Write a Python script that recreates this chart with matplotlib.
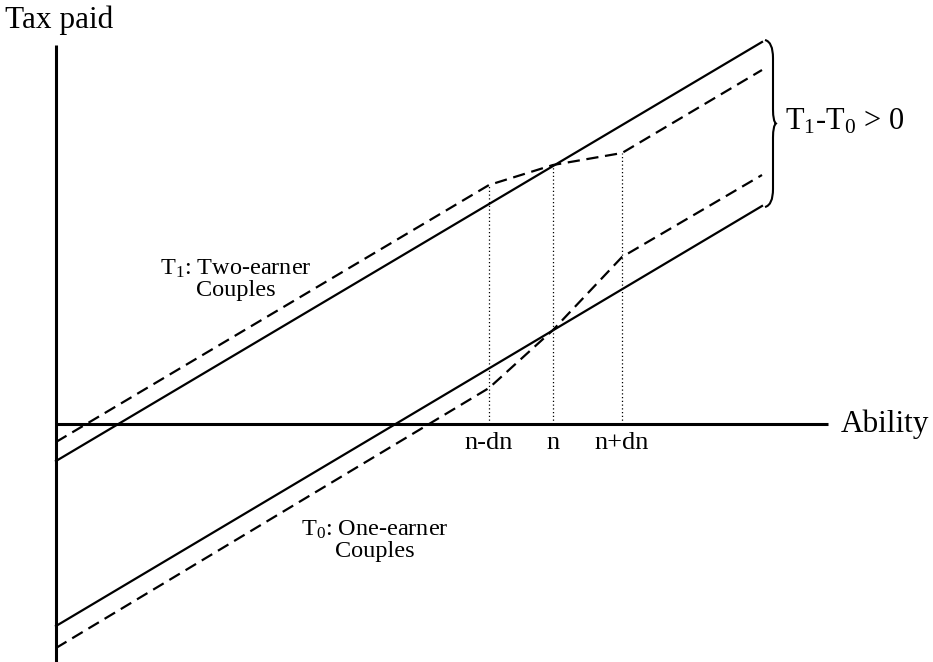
import matplotlib
matplotlib.use("Agg")
import matplotlib.pyplot as plt
from matplotlib.path import Path
from matplotlib.patches import PathPatch

plt.rcParams["font.family"] = ["Liberation Serif", "DejaVu Serif"]
plt.rcParams["mathtext.fontset"] = "custom"
plt.rcParams["mathtext.rm"] = "Liberation Serif"
plt.rcParams["mathtext.it"] = "Liberation Serif:italic"

# Schematische Werte (Abszisse = Faehigkeit, Ordinate = Steuer)
t1_x = [0, 706]
t1_y = [-37, 382]
t1_dash_x = [0, 433, 497, 566, 706]
t1_dash_y = [-18, 239, 259, 271, 354]

t0_x = [0, 706]
t0_y = [-202, 218]
t0_dash_x = [0, 433, 497, 566, 706]
t0_dash_y = [-224, 36, 94, 167, 249]

tick_pos = [433, 497, 566]
tick_labels = ["n-dn", "n", "n+dn"]
tick_top = [239, 259, 271]

fig = plt.figure(figsize=(9.33, 6.62), dpi=100)
ax = fig.add_axes([0, 0, 1, 1])
ax.set_xlim(-56, 877)
ax.set_ylim(-238, 424)
ax.axis("off")

# Achsen
ax.plot([0, 0], [-238, 379], color="black", lw=2.2, solid_capstyle="butt")
ax.plot([0, 772], [0, 0], color="black", lw=2.2, solid_capstyle="butt")
ax.text(-51, 404, "Tax paid", fontsize=22.5, ha="left", va="center")
ax.text(785, 0, "Ability", fontsize=22.5, ha="left", va="center")

# Steuerfunktionen
ax.plot(t1_x, t1_y, color="black", lw=1.6)
ax.plot(t1_dash_x, t1_dash_y, color="black", lw=1.6, dashes=(5.5, 3))
ax.plot(t0_x, t0_y, color="black", lw=1.6)
ax.plot(t0_dash_x, t0_dash_y, color="black", lw=1.6, dashes=(5.5, 3))

for xp, top, lab in zip(tick_pos, tick_top, tick_labels):
    ax.plot([xp, xp], [0, top], color="black", lw=0.9, ls=(0, (1, 2)))
    ax.text(xp, -19, lab, fontsize=19, ha="center", va="center")

ax.text(180, 145, "T$_1$: Two-earner\nCouples", fontsize=17.5,
        ha="center", va="center", linespacing=1.0)
ax.text(319, -116, "T$_0$: One-earner\nCouples", fontsize=17.5,
        ha="center", va="center", linespacing=1.0)

# Geschweifte Klammer
bx, top, bot, tip = 709, 384, 217, 720
mid = (top + bot) / 2
verts = [(bx, top), (bx + 8, top - 2), (bx + 8, top - 18),
         (bx + 8, mid + 14), (bx + 8, mid + 2), (tip, mid),
         (bx + 8, mid - 2), (bx + 8, mid - 14),
         (bx + 8, bot + 18), (bx + 8, bot + 2), (bx, bot)]
codes = [Path.MOVETO, Path.CURVE3, Path.CURVE3,
         Path.LINETO, Path.CURVE3, Path.CURVE3,
         Path.CURVE3, Path.CURVE3,
         Path.LINETO, Path.CURVE3, Path.CURVE3]
ax.add_patch(PathPatch(Path(verts, codes), fill=False, lw=1.5, color="black"))
ax.text(729, mid + 2, "T$_1$-T$_0$ > 0", fontsize=22, ha="left", va="center")

fig.savefig("out.png", dpi=100)
